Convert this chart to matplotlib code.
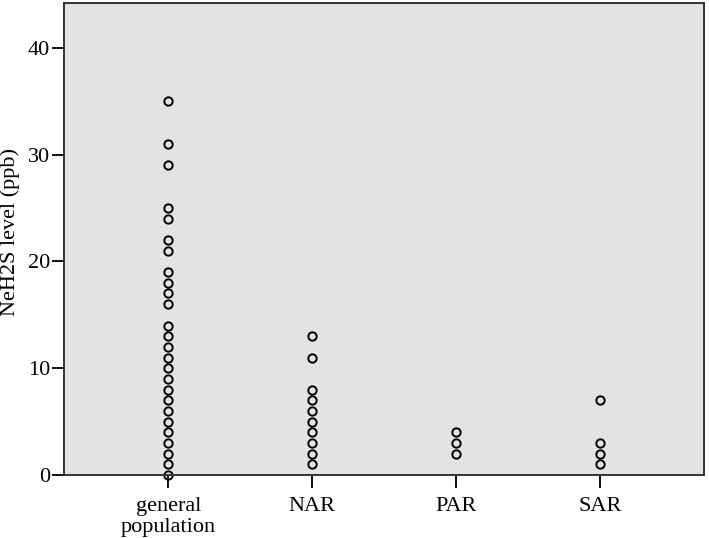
import numpy as np
import matplotlib
matplotlib.use('Agg')
import matplotlib.pyplot as plt

plt.rcParams['font.family'] = ['Liberation Serif', 'DejaVu Serif']

# category labels along the x-axis
groups = ['general\npopulation', 'NAR', 'PAR', 'SAR']

# NeH2S values (ppb)
general_population = [35, 31, 29, 25, 24, 22, 21, 19, 18, 17, 16, 14, 13, 12,
                      11, 10, 9, 8, 7, 6, 5, 4, 3, 2, 1, 0]
nar = [13, 11, 8, 7, 6, 5, 4, 3, 2, 1]
par = [4, 3, 2]
sar = [7, 3, 2, 1]

y_ticks = [0, 10, 20, 30, 40]

fig = plt.figure(figsize=(7.09, 5.38), dpi=100)
ax = fig.add_axes([0.0903, 0.1171, 0.9027, 0.8773])
ax.set_facecolor('#e3e3e3')

# one column of open circles per group
for i, vals in enumerate([general_population, nar, par, sar]):
    ax.plot(np.full(len(vals), i), vals, linestyle='none', marker='o',
            markersize=6, markerfacecolor='none', markeredgecolor='black',
            markeredgewidth=1.4, clip_on=False, zorder=2)

ax.set_xlim(-0.724, 3.724)
ax.set_ylim(0, 44.2)
ax.set_xticks(range(len(groups)))
ax.set_xticklabels(groups, fontsize=16, linespacing=1.1)
ax.set_yticks(y_ticks)
ax.set_yticklabels([str(v) for v in y_ticks], fontsize=16)
ax.tick_params(axis='both', direction='out', length=9, width=1.4, color='#111111')
ax.tick_params(axis='y', pad=1)
ax.tick_params(axis='x', pad=7)

for s in ax.spines.values():
    s.set_color('#333333')
    s.set_linewidth(1.4)
    s.set_zorder(3)

ax.set_ylabel('NeH2S level (ppb)', fontsize=16)
ax.yaxis.set_label_coords(-0.069, 0.515)

fig.savefig('out.png', dpi=100)
